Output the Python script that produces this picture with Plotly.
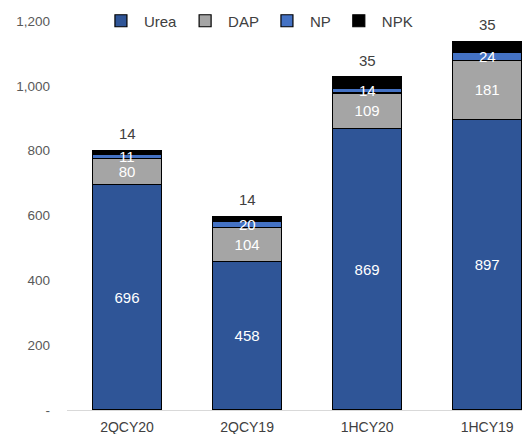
import plotly.graph_objects as go

categories = ["2QCY20", "2QCY19", "1HCY20", "1HCY19"]
urea = [696, 458, 869, 897]
dap = [80, 104, 109, 181]
np_vals = [11, 20, 14, 24]
npk = [14, 14, 35, 35]
y_ticks = [0, 200, 400, 600, 800, 1000, 1200]
y_tick_labels = ["-", "200", "400", "600", "800", "1,000", "1,200"]

FONT = "Liberation Sans, Arial, sans-serif"
series = [
    ("Urea", urea, "#2F5597", True),
    ("DAP", dap, "#A5A5A5", True),
    ("NP", np_vals, "#4472C4", False),
    ("NPK", npk, "#000000", False),
]

fig = go.Figure()
for name, vals, color, show_text in series:
    fig.add_trace(go.Bar(
        name=name, x=categories, y=vals,
        marker=dict(color=color, line=dict(color="#000000", width=1.2)),
        width=0.575,
        text=[str(v) for v in vals] if show_text else None,
        textposition="inside" if show_text else "none",
        insidetextanchor="middle",
        constraintext="none",
        textangle=0,
        textfont=dict(family=FONT, size=15, color="white"),
        hoverinfo="skip",
    ))

# NP labels drawn on top of the stack (centered on the NP segment)
for cat, u, d, n in zip(categories, urea, dap, np_vals):
    fig.add_annotation(x=cat, y=u + d + n / 2, text=str(n), showarrow=False,
                       font=dict(family=FONT, size=15, color="white"))

# NPK labels above the bars
totals = [a + b + c + d for a, b, c, d in zip(urea, dap, np_vals, npk)]
for cat, tot, v in zip(categories, totals, npk):
    fig.add_annotation(x=cat, y=tot, text=str(v), showarrow=False,
                       yshift=17, font=dict(family=FONT, size=15, color="#404040"))

fig.update_layout(
    barmode="stack",
    width=522, height=434,
    margin=dict(l=67, r=0, t=21, b=24),
    plot_bgcolor="white", paper_bgcolor="white",
    font=dict(family=FONT, size=13, color="#595959"),
    showlegend=True,
    legend=dict(orientation="h", x=0.068, xanchor="left", y=1.0, yanchor="middle",
                font=dict(family=FONT, size=15, color="#404040"),
                bgcolor="rgba(0,0,0,0)", itemwidth=36, traceorder="normal"),
    xaxis=dict(range=[-0.5, 3.29], showline=True, linecolor="#D9D9D9", linewidth=1,
               ticks="", ticklabelstandoff=4,
               tickfont=dict(family=FONT, size=14, color="#404040")),
    yaxis=dict(range=[0, 1200], tickvals=y_ticks, ticktext=y_tick_labels,
               showgrid=False, zeroline=False, showline=False, ticks="",
               tickfont=dict(family=FONT, size=13.5, color="#595959"), ticklabelstandoff=16),
)

fig.write_html("out.html")
